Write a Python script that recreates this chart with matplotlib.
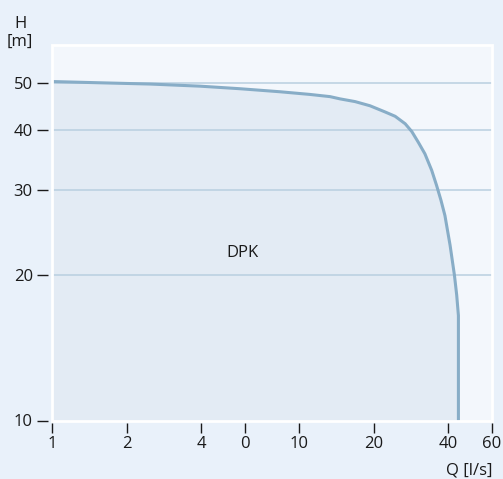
import matplotlib
matplotlib.use('Agg')
import matplotlib.pyplot as plt
from matplotlib.patches import Rectangle
from matplotlib.ticker import FixedLocator, FixedFormatter, NullLocator

# pump curve DPK (Q in l/s, H in m)
q_pts = [1.0, 1.56, 2.49, 3.96, 5.75, 8.35, 11.0, 13.3, 14.6, 16.8, 19.3,
         22.2, 24.4, 26.8, 28.5, 30.3, 32.2, 34.3, 35.9, 37.4, 38.8, 40.7,
         42.4, 43.3, 44.0, 44.0]
h_pts = [50.4, 50.1, 49.8, 49.3, 48.7, 48.0, 47.4, 46.9, 46.4, 45.8, 44.9,
         43.6, 42.7, 41.2, 39.7, 37.7, 35.7, 33.0, 30.7, 28.6, 26.6, 23.1,
         20.0, 18.2, 16.5, 10.0]

x_ticks = [1, 2, 4, 6, 10, 20, 40, 60]
x_labels = ['1', '2', '4', '0', '10', '20', '40', '60']
y_ticks = [10, 20, 30, 40, 50]
y_labels = ['10', '20', '30', '40', '50']
grid_h = [20, 30, 40, 50]

bg = '#e9f1fa'
plot_bg = '#f3f7fc'
fill_c = '#e3ebf4'
line_c = '#88adc7'
grid_c = '#b9cfe0'
txt_c = '#1a1a1a'

plt.rcParams['font.family'] = ['Open Sans', 'DejaVu Sans']

W, H = 503, 479
fig = plt.figure(figsize=(W / 100, H / 100), dpi=100, facecolor=bg)
ax = fig.add_axes([52.3 / W, 1 - 420.5 / H, 439.4 / W, 375.5 / H])
ax.set_facecolor(plot_bg)
ax.set_xscale('log')
ax.set_yscale('log')
ax.set_xlim(1, 60)
ax.set_ylim(10, 60)

ax.fill_between(q_pts, h_pts, 10, color=fill_c, lw=0, zorder=1)
for g in grid_h:
  ax.axhline(g, color=grid_c, lw=1.1, zorder=2)
ax.plot(q_pts, h_pts, color=line_c, lw=2.2, solid_capstyle='butt',
        solid_joinstyle='round', zorder=3)

ax.text(5.86, 22.2, 'DPK', ha='center', va='center', fontsize=12, color=txt_c)

# white frame round the plot area
ax.add_patch(Rectangle((0, 0), 1, 1, transform=ax.transAxes, fill=False,
                       ec='white', lw=2.0, clip_on=False, zorder=5))

for s in ax.spines.values():
  s.set_visible(False)
ax.spines['left'].set_position(('outward', 3))
ax.spines['bottom'].set_position(('outward', 1.5))

ax.xaxis.set_major_locator(FixedLocator(x_ticks))
ax.xaxis.set_major_formatter(FixedFormatter(x_labels))
ax.xaxis.set_minor_locator(NullLocator())
ax.yaxis.set_major_locator(FixedLocator(y_ticks))
ax.yaxis.set_major_formatter(FixedFormatter(y_labels))
ax.yaxis.set_minor_locator(NullLocator())
ax.tick_params(axis='y', length=8, width=1.0, pad=3, color=txt_c,
               labelsize=12, labelcolor=txt_c)
ax.tick_params(axis='x', length=7, width=1.0, pad=3, color=txt_c,
               labelsize=12, labelcolor=txt_c)

fig.text(20 / W, 1 - 16 / H, 'H\n[m]', ha='center', va='top', fontsize=12,
         color=txt_c, linespacing=1.15)
fig.text(492 / W, 1 - 470.5 / H, 'Q [l/s]', ha='right', va='center',
         fontsize=12, color=txt_c)

fig.savefig('out.png', dpi=100, facecolor=bg)
